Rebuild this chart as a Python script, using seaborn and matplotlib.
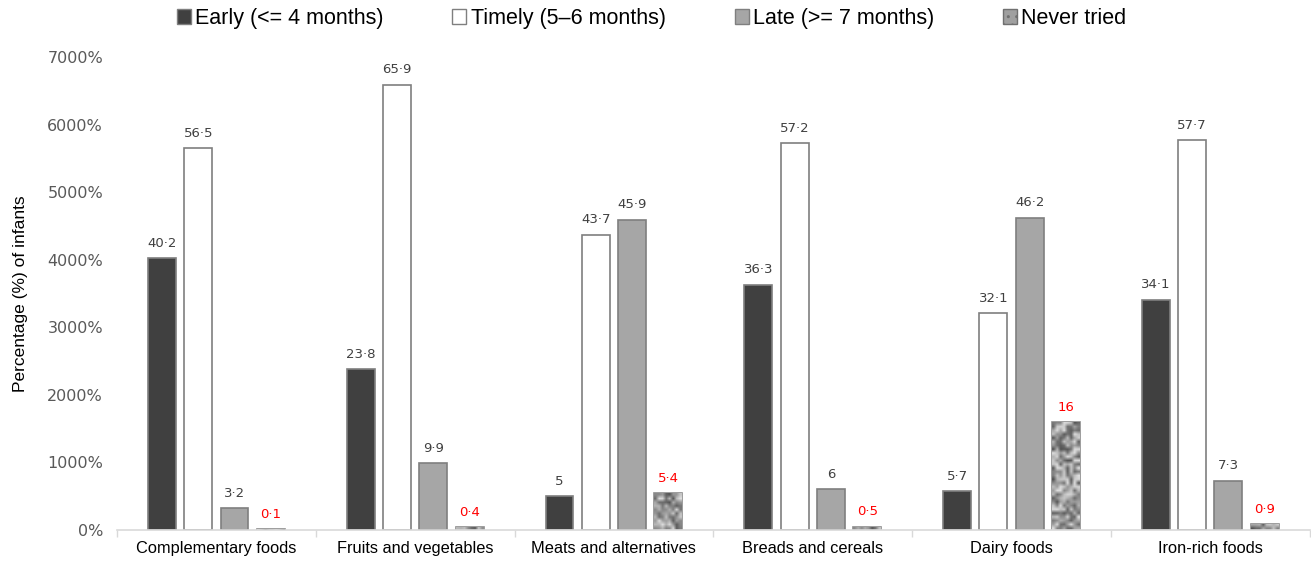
import numpy as np
import pandas as pd
import seaborn as sns
import matplotlib.pyplot as plt
from matplotlib.patches import Patch

# Values (percent of infants)
categories = ["Complementary foods", "Fruits and vegetables", "Meats and alternatives",
              "Breads and cereals", "Dairy foods", "Iron-rich foods"]
series = ["Early (<= 4 months)", "Timely (5\u20136 months)", "Late (>= 7 months)", "Never tried"]
early = [40.2, 23.8, 5.0, 36.3, 5.7, 34.1]
timely = [56.5, 65.9, 43.7, 57.2, 32.1, 57.7]
late = [3.2, 9.9, 45.9, 6.0, 46.2, 7.3]
never = [0.1, 0.4, 5.4, 0.5, 16.0, 0.9]
yticks = [0, 10, 20, 30, 40, 50, 60, 70]

# long form table for seaborn
df = pd.DataFrame({
    "food": categories * 4,
    "group": [s for s in series for _ in categories],
    "pct": early + timely + late + never,
})

def fmt(v):
    s = f"{v:.1f}".replace(".", "\u00b7")
    return s[:-2] if s.endswith("\u00b70") else s

fills = ["#404040", "#ffffff", "#a6a6a6", "#9a9a9a"]
edges = ["#7f7f7f", "#7f7f7f", "#7f7f7f", "#8c8c8c"]

fig = plt.figure(figsize=(13.11, 5.67), dpi=100)
ax = fig.add_axes([0.0892, 0.0653, 0.9098, 0.8342])

sns.barplot(data=df, x="food", y="pct", hue="group", order=categories, hue_order=series,
            palette=fills, width=0.73, gap=0.23, linewidth=1.2, edgecolor="#7f7f7f",
            legend=False, ax=ax)

for i, cont in enumerate(ax.containers):
    for bar in cont:
        bar.set_facecolor(fills[i])
        bar.set_edgecolor(edges[i])
    colour = "#ff0000" if i == 3 else "#404040"
    ax.bar_label(cont, labels=[fmt(v) for v in cont.datavalues], padding=6,
                 fontsize=9.5, color=colour, family="DejaVu Sans")

# grainy grey texture for the "never tried" bars (hash noise, decoration only)
for bar in ax.containers[3]:
    x0, w, h = bar.get_x(), bar.get_width(), bar.get_height()
    ny = max(int(round(h * 1.8)), 1)
    ii = np.arange(ny)[:, None] + 1.0
    jj = np.arange(8)[None, :] + 1.0
    tex = np.modf(np.abs(np.sin(ii * 12.9898 + jj * 78.233 + x0 * 3.1)) * 43758.5453)[0]
    tex = 0.32 + 0.55 * tex
    im = ax.imshow(tex, cmap="gray", vmin=0, vmax=1, extent=(x0, x0 + w, 0, h),
                   aspect="auto", interpolation="bilinear", zorder=bar.get_zorder())
    im.set_clip_path(bar)

ax.set_xlim(-0.5, len(categories) - 0.5)
ax.set_ylim(0, 70)
ax.set_yticks(yticks)
ax.set_yticklabels([f"{v * 100}%" for v in yticks], fontsize=11.5, color="#595959",
                   family="DejaVu Sans")
ax.set_ylabel("Percentage (%) of infants", fontsize=12.5, family="Liberation Sans", labelpad=14)
ax.set_xlabel("")
ax.tick_params(axis="y", length=0, pad=10)
ax.tick_params(axis="x", which="major", length=0, labelsize=11.8, pad=8)
for t in ax.get_xticklabels():
    t.set_family("Liberation Sans")
ax.set_xticks(np.arange(len(categories) + 1) - 0.5, minor=True)
ax.tick_params(axis="x", which="minor", length=5, color="#d9d9d9", width=1)
for s in ["top", "right", "left"]:
    ax.spines[s].set_visible(False)
ax.spines["bottom"].set_color("#d9d9d9")
ax.spines["bottom"].set_linewidth(1.2)

handles = [Patch(facecolor=fills[i], edgecolor=edges[i], label=series[i]) for i in range(4)]
handles[3] = Patch(facecolor="#a0a0a0", edgecolor="#707070", hatch="..", label=series[3])
fig.legend(handles=handles, loc="upper center", bbox_to_anchor=(0.497, 1.02), ncol=4,
           frameon=False, handlelength=0.65, handleheight=0.65, handletextpad=0.2,
           columnspacing=3.2, prop={"family": "Liberation Sans", "size": 15.5})

fig.savefig("out.png", dpi=100)
